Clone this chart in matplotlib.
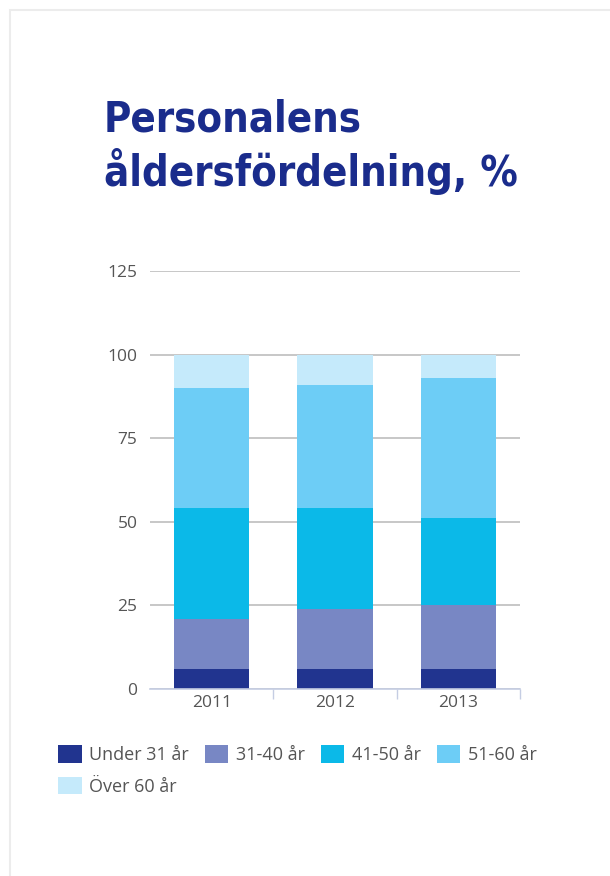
import numpy as np
import matplotlib.pyplot as plt
from matplotlib.patches import Rectangle

# Data
years = ["2011", "2012", "2013"]
groups = ["Under 31 år", "31-40 år", "41-50 år", "51-60 år", "Över 60 år"]
under_31 = [6, 6, 6]
age_31_40 = [15, 18, 19]
age_41_50 = [33, 30, 26]
age_51_60 = [36, 37, 42]
over_60 = [10, 9, 7]
yticks = [0, 25, 50, 75, 100, 125]

colors = ["#21348f", "#7887c4", "#0bb9e8", "#6dcdf6", "#c5eafb"]

fig = plt.figure(figsize=(6.1, 8.76), dpi=100)

# light frame around the panel
fig.patches.append(Rectangle((10 / 610, -0.1), 1.2, 1 - 10 / 876 + 0.1,
                             transform=fig.transFigure, fill=False,
                             edgecolor="#ececec", linewidth=1.5))

ax = fig.add_axes([150 / 610, 1 - 689 / 876, 370 / 610, 418 / 876])

x = np.arange(len(years))
bottom = np.zeros(len(years))
handles = []
for vals, col, lab in zip([under_31, age_31_40, age_41_50, age_51_60, over_60],
                          colors, groups):
    b = ax.bar(x, vals, width=0.61, bottom=bottom, color=col, label=lab,
               zorder=3)
    handles.append(b)
    bottom += np.array(vals)

ax.set_xlim(-0.5, 2.5)
ax.set_ylim(0, 125)
ax.set_yticks(yticks)
ax.set_xticks(x)
ax.set_xticklabels(years)
ax.set_xticks([0.5, 1.5, 2.5], minor=True)
ax.grid(axis="y", color="#bdbdbd", linewidth=1.2, zorder=0)

for s in ["top", "right", "left"]:
    ax.spines[s].set_visible(False)
ax.spines["bottom"].set_color("#c5cde3")
ax.spines["bottom"].set_linewidth(1.2)
ax.spines["bottom"].set_zorder(4)

ax.tick_params(axis="y", length=0, pad=9, labelsize=12.5, labelcolor="#555555")
ax.tick_params(axis="x", which="major", length=0, pad=4, labelsize=12.5,
               labelcolor="#555555")
ax.tick_params(axis="x", which="minor", length=7, color="#c5cde3", width=1)
for t in ax.get_xticklabels() + ax.get_yticklabels():
    t.set_fontfamily("Open Sans")

# title, two lines
title_kw = dict(fontsize=30, fontweight="bold", color="#1a2c8c",
                family="DejaVu Sans", stretch="condensed",
                va="baseline", ha="left")
fig.text(104 / 610, 1 - 132 / 876, "Personalens", **title_kw)
fig.text(104 / 610, 1 - 186 / 876, "åldersfördelning, %", **title_kw)

# legend filled column-wise, so reorder to get row-wise layout
order = [0, 4, 1, 2, 3]
leg = fig.legend([handles[i] for i in order], [groups[i] for i in order],
                 ncol=4, loc="upper left",
                 bbox_to_anchor=(51 / 610, 1 - 738 / 876), frameon=False,
                 prop={"family": "Open Sans", "size": 13},
                 handlelength=1.3, handleheight=1.1, handletextpad=0.4,
                 columnspacing=0.9, labelspacing=0.72, borderaxespad=0)
for t in leg.get_texts():
    t.set_color("#555555")

fig.savefig("out.png", dpi=100)
